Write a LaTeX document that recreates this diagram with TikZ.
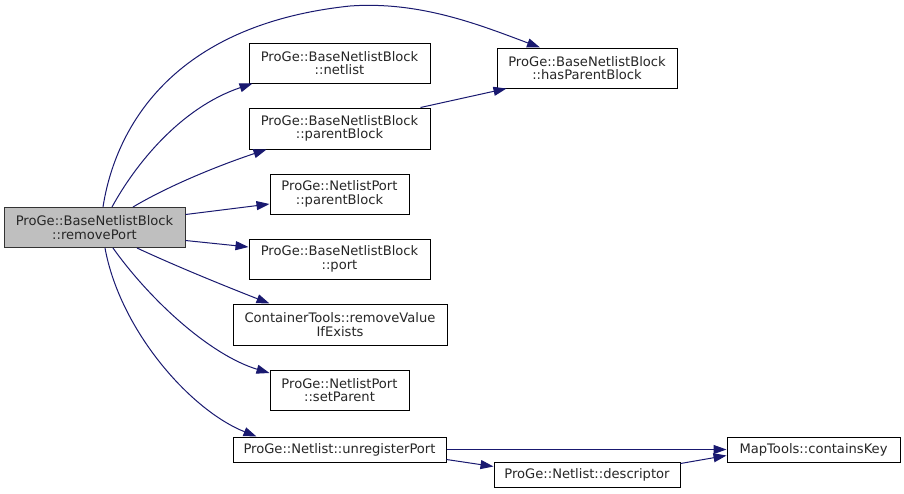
\documentclass[tikz,border=0pt]{standalone}
\usepackage{fontspec}
\setmainfont{DejaVu Sans}
\usetikzlibrary{arrows.meta,calc}
\definecolor{edgeblue}{HTML}{191970}
\definecolor{mainfill}{HTML}{BFBFBF}
\tikzset{
  fn/.style={draw=black, line width=1pt, fill=white, inner sep=0pt, align=center,
    font=\fontsize{13.1}{13.5}\selectfont, text=black!85},
  mainfn/.style={fn, fill=mainfill, draw=black!80},
  call/.style={draw=edgeblue, line width=1pt, -{Triangle[length=13pt,width=9pt]}, fill=none},
}
\begin{document}
\begin{tikzpicture}[x=1pt,y=-1pt]
\useasboundingbox (0,0) rectangle (904,493);
\fill[white] (0,0) rectangle (904,493);

\node[mainfn, minimum width=181pt, minimum height=40pt] (main) at (94.5,227.5) {ProGe::BaseNetlistBlock\\::removePort};
\node[fn, minimum width=181pt, minimum height=40pt] (netlist) at (339.5,63) {ProGe::BaseNetlistBlock\\::netlist};
\node[fn, minimum width=181pt, minimum height=41pt] (pblock) at (339.5,128.5) {ProGe::BaseNetlistBlock\\::parentBlock};
\node[fn, minimum width=180pt, minimum height=40pt] (haspb) at (587,68) {ProGe::BaseNetlistBlock\\::hasParentBlock};
\node[fn, minimum width=139pt, minimum height=40pt] (nppb) at (339.5,194) {ProGe::NetlistPort\\::parentBlock};
\node[fn, minimum width=181pt, minimum height=40pt] (port) at (339.5,259) {ProGe::BaseNetlistBlock\\::port};
\node[fn, minimum width=214pt, minimum height=41pt] (ct) at (340,324.5) {ContainerTools::removeValue\\IfExists};
\node[fn, minimum width=139pt, minimum height=40pt] (setp) at (339.5,390) {ProGe::NetlistPort\\::setParent};
\node[fn, minimum width=213pt, minimum height=25pt] (unreg) at (339.5,449.5) {ProGe::Netlist::unregisterPort};
\node[fn, minimum width=186pt, minimum height=25pt] (desc) at (587,474.5) {ProGe::Netlist::descriptor};
\node[fn, minimum width=173pt, minimum height=25pt] (ck) at (813.5,449.5) {MapTools::containsKey};

% edges from main
\draw[call] ($(main.north)+(8.5,0)$) .. controls (115,130) and (170,25) .. (350,6)
   .. controls (420,1) and (480,25) .. ($(haspb.north)+(-47,0)$);
\draw[call] ($(main.north)+(17.5,0)$) .. controls (135,165) and (180,108) .. ($(netlist.south west)+(4,0)$);
\draw[call] ($(main.north)+(38.5,0)$) .. controls (170,185) and (220,165) .. ($(pblock.south west)+(18,0)$);
\draw[call] ($(main.east)+(0,-13)$) -- ($(nppb.west)+(0,10)$);
\draw[call] ($(main.east)+(0,13)$) -- ($(port.west)+(0,-12)$);
\draw[call] ($(main.south)+(42.5,0)$) .. controls (180,268) and (230,288) .. ($(ct.north west)+(37,0)$);
\draw[call] ($(main.south)+(18.5,0)$) .. controls (150,300) and (210,355) .. ($(setp.west)+(0,-17)$);
\draw[call] ($(main.south)+(10.5,0)$) .. controls (120,330) and (190,410) .. ($(unreg.north west)+(24,0)$);

% other edges
\draw[call] ($(pblock.north east)+(-10,0)$) -- ($(haspb.south west)+(10,0)$);
\draw[call] (unreg.east) -- (ck.west);
\draw[call] ($(unreg.east)+(0,10)$) -- ($(desc.west)+(0,-8)$);
\draw[call] ($(desc.east)+(0,-11)$) -- ($(ck.west)+(0,6)$);
\end{tikzpicture}
\end{document}
